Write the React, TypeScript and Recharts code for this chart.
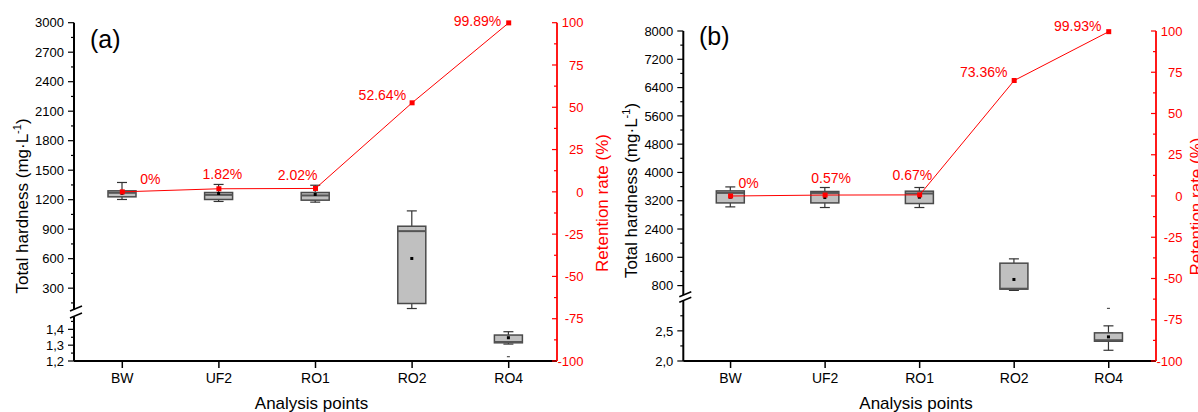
import React from 'react';
import { ComposedChart, Bar, Line, XAxis, YAxis } from 'recharts';

const W = 1198;
const H = 412;
const FONT = "Arial, 'Liberation Sans', Helvetica, sans-serif";
const RED = '#ff0000';

// ---------- data ----------
const categories = ['BW', 'UF2', 'RO1', 'RO2', 'RO4'];

// panel (a)
const segmentA = ['upper', 'upper', 'upper', 'upper', 'lower'];
const whiskerLowA = [1202, 1182, 1175, 93, 1.307];
const q1A = [1229, 1202, 1195, 144, 1.315];
const medianA = [1270, 1249, 1243, 880, 1.32];
const q3A = [1290, 1273, 1273, 930, 1.364];
const whiskerHighA = [1375, 1355, 1347, 1086, 1.385];
const meanA = [1265, 1263, 1253, 602, 1.347];
const outlierA = [null, null, null, null, 1.227];
const retentionA = [0, 1.82, 2.02, 52.64, 99.89];
const retentionLabelA = ['0%', '1.82%', '2.02%', '52.64%', '99.89%'];

// panel (b)
const segmentB = ['upper', 'upper', 'upper', 'upper', 'lower'];
const whiskerLowB = [3026, 3008, 3008, 664, 2.178];
const q1B = [3138, 3138, 3121, 700, 2.328];
const medianB = [3421, 3421, 3404, 712, 2.345];
const q3B = [3478, 3461, 3470, 1434, 2.467];
const whiskerHighB = [3591, 3574, 3574, 1556, 2.583];
const meanB = [3300, 3290, 3300, 973, 2.4];
const outlierB = [null, null, null, null, 2.873];
const retentionB = [0, 0.57, 0.67, 70, 99.6];
const retentionLabelB = ['0%', '0.57%', '0.67%', '73.36%', '99.93%'];

// axis ticks
const upperMajorA = [300, 600, 900, 1200, 1500, 1800, 2100, 2400, 2700, 3000];
const upperMinorA = [150, 450, 750, 1050, 1350, 1650, 1950, 2250, 2550, 2850];
const lowerMajorA = [1.2, 1.3, 1.4];
const lowerMinorA = [1.25, 1.35, 1.45];
const upperMajorB = [800, 1600, 2400, 3200, 4000, 4800, 5600, 6400, 7200, 8000];
const upperMinorB = [1200, 2000, 2800, 3600, 4400, 5200, 6000, 6800, 7600];
const lowerMajorB = [2.0, 2.5];
const lowerMinorB = [2.25, 2.75];
const rightMajor = [-100, -75, -50, -25, 0, 25, 50, 75, 100];
const rightMinor = [-87.5, -62.5, -37.5, -12.5, 12.5, 37.5, 62.5, 87.5];

// ---------- layout / style config ----------
const panelA = {
  left: 74, right: 557, top: 22.7, upperBottom: 310, lowerTop: 317, bottom: 361,
  upperDomain: [78, 3000], lowerDomain: [1.2, 1.478], breakOffsets: [1.5, 8.5],
};
const panelB = {
  left: 683.3, right: 1156, top: 31, upperBottom: 295, lowerTop: 300.7, bottom: 361,
  upperDomain: [534, 8000], lowerDomain: [2.0, 3.0], breakOffsets: [1, 6.5],
};
const labelPlaceA = [
  { anchor: 'start', dx: 18, dy: -7.5 },
  { anchor: 'middle', dx: 3.5, dy: -9.6 },
  { anchor: 'end', dx: 2, dy: -8 },
  { anchor: 'end', dx: -6, dy: -3 },
  { anchor: 'end', dx: -7.5, dy: 3.5 },
];
const labelPlaceB = [
  { anchor: 'start', dx: 8, dy: -8 },
  { anchor: 'middle', dx: 6, dy: -12 },
  { anchor: 'end', dx: 12.6, dy: -15 },
  { anchor: 'end', dx: -6.7, dy: -3.5 },
  { anchor: 'end', dx: -7.3, dy: -0.7 },
];

function buildBoxData(
  seg: string, segs: string[], lo: number[], q1: number[], med: number[], q3: number[],
  hi: number[], mean: number[], out: (number | null)[],
) {
  return categories.map((cat, i) =>
    segs[i] === seg
      ? { cat, lo: lo[i], q1: q1[i], med: med[i], q3: q3[i], hi: hi[i], mean: mean[i], out: out[i] }
      : { cat },
  );
}

function buildLineData(ret: number[]) {
  return categories.map((cat, i) => ({ cat, ret: ret[i] }));
}

const boxRange = (d: any) => (d.hi == null ? null : [d.lo, d.hi]);

const BoxShape = (props: any) => {
  const { x, y, width, height, payload } = props;
  if (!payload || payload.hi == null || !isFinite(y) || !isFinite(height)) return <g />;
  const top = Math.min(y, y + height);
  const bot = Math.max(y, y + height);
  const span = payload.hi - payload.lo;
  const py = (v: number) => top + ((payload.hi - v) / span) * (bot - top);
  const cx = x + width / 2;
  const cap = 5;
  const q3y = py(payload.q3);
  const q1y = py(payload.q1);
  const wc = '#333333';
  return (
    <g>
      <line x1={cx} x2={cx} y1={top} y2={q3y} stroke={wc} strokeWidth={1.2} />
      <line x1={cx} x2={cx} y1={q1y} y2={bot} stroke={wc} strokeWidth={1.2} />
      <line x1={cx - cap} x2={cx + cap} y1={top} y2={top} stroke={wc} strokeWidth={1.2} />
      <line x1={cx - cap} x2={cx + cap} y1={bot} y2={bot} stroke={wc} strokeWidth={1.2} />
      <rect x={x} y={q3y} width={width} height={Math.max(q1y - q3y, 1)} fill="#c0c0c0" stroke="#4a4a4a" strokeWidth={1.5} />
      <line x1={x} x2={x + width} y1={py(payload.med)} y2={py(payload.med)} stroke="#555555" strokeWidth={2} />
      <rect x={cx - 1.5} y={py(payload.mean) - 1.5} width={3} height={3} fill="#000" />
      {payload.out != null && (
        <line x1={cx - 1.5} x2={cx + 1.5} y1={py(payload.out)} y2={py(payload.out)} stroke="#333" strokeWidth={1} />
      )}
    </g>
  );
};

const fmtComma = (v: number) => v.toFixed(1).replace('.', ',');
const fmtInt = (v: number) => String(v);

function makeLeftTick(majors: number[], fmt: (v: number) => string, breakValue: number | null, breakOffsets: number[]) {
  return (props: any) => {
    const { x, y, payload } = props;
    const v = payload.value;
    if (breakValue != null && v === breakValue) {
      return (
        <g>
          {breakOffsets.map((o, i) => (
            <line key={i} x1={x - 4} y1={y - o + 2.5} x2={x + 8} y2={y - o - 2.5} stroke="#000" strokeWidth={1.5} />
          ))}
        </g>
      );
    }
    const major = majors.includes(v);
    return (
      <g>
        <line x1={x} x2={x - (major ? 6 : 3)} y1={y} y2={y} stroke="#000" strokeWidth={1.2} />
        {major && (
          <text x={x - 10} y={y} dy="0.36em" textAnchor="end" fontSize={13} fill="#000" fontFamily={FONT}>
            {fmt(v)}
          </text>
        )}
      </g>
    );
  };
}

const RightTick = (props: any) => {
  const { x, y, payload } = props;
  const v = payload.value;
  const major = rightMajor.includes(v);
  return (
    <g>
      <line x1={x} x2={x - (major ? 5 : 3)} y1={y} y2={y} stroke={RED} strokeWidth={1.2} />
      {major && (
        <text x={x + 26.5} y={y} dy="0.36em" textAnchor="end" fontSize={13} fill={RED} fontFamily={FONT}>
          {String(v)}
        </text>
      )}
    </g>
  );
};

function makeDot(labels: string[], place: any[]) {
  return (props: any) => {
    const { cx, cy, index } = props;
    if (cx == null || cy == null) return <g key={`d${index}`} />;
    const p = place[index];
    return (
      <g key={`d${index}`}>
        <rect x={cx - 2.5} y={cy - 2.5} width={5} height={5} fill={RED} />
        <text x={cx + p.dx} y={cy + p.dy} textAnchor={p.anchor} fontSize={14} fill={RED} fontFamily={FONT}>
          {labels[index]}
        </text>
      </g>
    );
  };
}

const AXW = 60;
const abs: React.CSSProperties = { position: 'absolute', left: 0, top: 0 };

function Panel(props: {
  p: any; upperData: any[]; lowerData: any[]; lineData: any[];
  upperMajor: number[]; upperMinor: number[]; lowerMajor: number[]; lowerMinor: number[];
  labels: string[]; place: any[];
}) {
  const { p } = props;
  const upperTicks = [...props.upperMinor, ...props.upperMajor].sort((a, b) => a - b);
  const lowerTicks = [...props.lowerMajor, ...props.lowerMinor, p.lowerDomain[1]].sort((a, b) => a - b);
  const rightTicks = [...rightMajor, ...rightMinor].sort((a, b) => a - b);
  return (
    <>
      <div style={abs}>
        <ComposedChart
          width={W}
          height={H}
          data={props.upperData}
          margin={{ top: p.top, bottom: H - p.upperBottom, left: p.left - AXW, right: W - p.right }}
        >
          <XAxis dataKey="cat" hide scale="band" />
          <YAxis
            orientation="left"
            width={AXW}
            domain={p.upperDomain}
            ticks={upperTicks}
            interval={0}
            tickLine={false}
            tickSize={0}
            tickMargin={0}
            axisLine={{ stroke: '#000', strokeWidth: 2 }}
            tick={makeLeftTick(props.upperMajor, fmtInt, null, [])}
          />
          <Bar dataKey={boxRange} barSize={28} shape={BoxShape} isAnimationActive={false} />
        </ComposedChart>
      </div>
      <div style={abs}>
        <ComposedChart
          width={W}
          height={H}
          data={props.lowerData}
          margin={{ top: p.lowerTop, bottom: H - p.bottom - 50, left: p.left - AXW, right: W - p.right }}
        >
          <XAxis
            dataKey="cat"
            scale="band"
            height={50}
            interval={0}
            tickSize={7}
            tickMargin={5}
            axisLine={{ stroke: '#000', strokeWidth: 2 }}
            tickLine={{ stroke: '#000', strokeWidth: 1.5 }}
            tick={{ fill: '#000', fontSize: 14, fontFamily: FONT }}
          />
          <YAxis
            orientation="left"
            width={AXW}
            domain={p.lowerDomain}
            ticks={lowerTicks}
            interval={0}
            tickLine={false}
            tickSize={0}
            tickMargin={0}
            axisLine={{ stroke: '#000', strokeWidth: 2 }}
            tick={makeLeftTick(props.lowerMajor, fmtComma, p.lowerDomain[1], p.breakOffsets)}
          />
          <Bar dataKey={boxRange} barSize={28} shape={BoxShape} isAnimationActive={false} />
        </ComposedChart>
      </div>
      <div style={abs}>
        <ComposedChart
          width={W}
          height={H}
          data={props.lineData}
          margin={{ top: p.top, bottom: H - p.bottom, left: p.left, right: W - p.right - 50 }}
        >
          <XAxis dataKey="cat" hide scale="band" />
          <YAxis
            yAxisId="r"
            orientation="right"
            width={50}
            domain={[-100, 100]}
            ticks={rightTicks}
            interval={0}
            tickLine={false}
            tickSize={0}
            tickMargin={0}
            axisLine={{ stroke: RED, strokeWidth: 1.8 }}
            tick={RightTick}
          />
          <Line
            yAxisId="r"
            dataKey="ret"
            type="linear"
            stroke={RED}
            strokeWidth={1}
            dot={makeDot(props.labels, props.place)}
            activeDot={false}
            isAnimationActive={false}
          />
        </ComposedChart>
      </div>
    </>
  );
}

function YTitle(props: { x: number; y: number; color?: string; children: React.ReactNode }) {
  return (
    <text
      x={props.x}
      y={props.y}
      transform={`rotate(-90, ${props.x}, ${props.y})`}
      textAnchor="middle"
      fontSize={17}
      fill={props.color || '#000'}
      fontFamily={FONT}
    >
      {props.children}
    </text>
  );
}

const HardnessTitle = () => (
  <>
    Total hardness (mg·L
    <tspan dy={-7} fontSize={11}>-1</tspan>
    <tspan dy={7}>)</tspan>
  </>
);

export default function App() {
  const upperA = buildBoxData('upper', segmentA, whiskerLowA, q1A, medianA, q3A, whiskerHighA, meanA, outlierA);
  const lowerA = buildBoxData('lower', segmentA, whiskerLowA, q1A, medianA, q3A, whiskerHighA, meanA, outlierA);
  const upperB = buildBoxData('upper', segmentB, whiskerLowB, q1B, medianB, q3B, whiskerHighB, meanB, outlierB);
  const lowerB = buildBoxData('lower', segmentB, whiskerLowB, q1B, medianB, q3B, whiskerHighB, meanB, outlierB);
  return (
    <div style={{ position: 'absolute', left: 0, top: 0, width: W, height: H, overflow: 'hidden', background: '#fff', fontFamily: FONT }}>
      <Panel
        p={panelA}
        upperData={upperA}
        lowerData={lowerA}
        lineData={buildLineData(retentionA)}
        upperMajor={upperMajorA}
        upperMinor={upperMinorA}
        lowerMajor={lowerMajorA}
        lowerMinor={lowerMinorA}
        labels={retentionLabelA}
        place={labelPlaceA}
      />
      <Panel
        p={panelB}
        upperData={upperB}
        lowerData={lowerB}
        lineData={buildLineData(retentionB)}
        upperMajor={upperMajorB}
        upperMinor={upperMinorB}
        lowerMajor={lowerMajorB}
        lowerMinor={lowerMinorB}
        labels={retentionLabelB}
        place={labelPlaceB}
      />
      <svg width={W} height={H} style={{ ...abs, pointerEvents: 'none' }}>
        <text x={90} y={48} fontSize={25} fill="#000" fontFamily={FONT}>(a)</text>
        <text x={699} y={45} fontSize={25} fill="#000" fontFamily={FONT}>(b)</text>
        <YTitle x={28} y={206}><HardnessTitle /></YTitle>
        <YTitle x={637} y={190.5}><HardnessTitle /></YTitle>
        <YTitle x={608} y={203} color={RED}>Retention rate (%)</YTitle>
        <YTitle x={1202} y={206.5} color={RED}>Retention rate (%)</YTitle>
        <text x={311.5} y={408.5} textAnchor="middle" fontSize={17} fill="#000" fontFamily={FONT}>Analysis points</text>
        <text x={916} y={408.5} textAnchor="middle" fontSize={17} fill="#000" fontFamily={FONT}>Analysis points</text>
      </svg>
    </div>
  );
}
